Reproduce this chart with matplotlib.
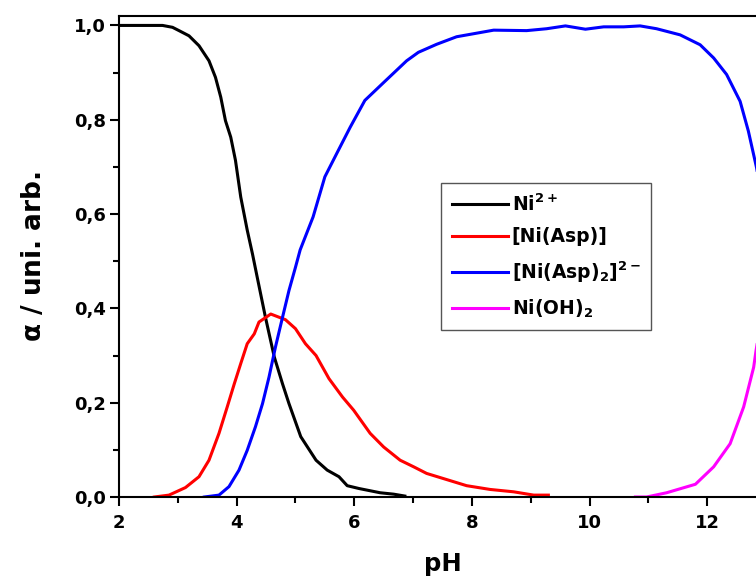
import matplotlib
matplotlib.use("Agg")
import matplotlib.pyplot as plt
from matplotlib.ticker import MultipleLocator, FuncFormatter

# species distribution
ph_ni = [2.0, 2.74, 2.91, 3.02, 3.19, 3.36, 3.53, 3.64, 3.73, 3.81, 3.90, 3.98, 4.07, 4.18, 4.27,
         4.35, 4.49, 4.64, 4.78, 4.89, 5.09, 5.35, 5.54, 5.74, 5.88, 6.08, 6.44, 6.67, 6.86]
a_ni = [1.0, 1.0, 0.996, 0.989, 0.978, 0.957, 0.925, 0.89, 0.848, 0.798, 0.763, 0.714, 0.636, 0.566, 0.515,
        0.466, 0.381, 0.297, 0.24, 0.198, 0.128, 0.078, 0.057, 0.043, 0.024, 0.018, 0.009, 0.006, 0.002]

ph_asp = [2.60, 2.85, 3.13, 3.36, 3.53, 3.70, 3.84, 3.96, 4.07, 4.18, 4.30, 4.38, 4.58, 4.83, 5.00, 5.17,
          5.35, 5.57, 5.80, 5.99, 6.27, 6.50, 6.78, 7.01, 7.23, 7.57, 7.91, 8.31, 8.71, 9.05, 9.30]
a_asp = [0.0, 0.004, 0.02, 0.043, 0.078, 0.135, 0.191, 0.24, 0.283, 0.325, 0.346, 0.371, 0.388, 0.376, 0.357, 0.325,
         0.30, 0.251, 0.212, 0.184, 0.135, 0.106, 0.078, 0.064, 0.05, 0.037, 0.024, 0.016, 0.011, 0.004, 0.004]

ph_asp2 = [3.45, 3.70, 3.87, 4.04, 4.18, 4.32, 4.44, 4.55, 4.66, 4.78, 4.89, 5.00, 5.08, 5.30, 5.50, 5.70,
           5.93, 6.18, 6.50, 6.89, 7.09, 7.40, 7.74, 8.37, 8.93, 9.27, 9.59, 9.93, 10.24, 10.58, 10.86,
           11.14, 11.54, 11.88, 12.11, 12.33, 12.56, 12.70, 12.84, 13.0]
a_asp2 = [0.0, 0.004, 0.022, 0.057, 0.099, 0.149, 0.198, 0.254, 0.318, 0.381, 0.438, 0.487, 0.524, 0.594, 0.679, 0.728,
          0.784, 0.841, 0.879, 0.925, 0.943, 0.96, 0.976, 0.99, 0.989, 0.993, 0.999, 0.992, 0.997, 0.997, 0.999,
          0.993, 0.98, 0.959, 0.931, 0.896, 0.839, 0.776, 0.698, 0.58]

ph_oh = [10.78, 10.97, 11.31, 11.80, 12.11, 12.39, 12.62, 12.79, 12.83, 13.0]
a_oh = [0.0, 0.0, 0.009, 0.027, 0.064, 0.113, 0.191, 0.275, 0.31, 0.44]

labels = [r'Ni$^{\mathbf{2+}}$', '[Ni(Asp)]', r'[Ni(Asp)$_{\mathbf{2}}$]$^{\mathbf{2-}}$', r'Ni(OH)$_{\mathbf{2}}$']
colors = ['black', '#ff0000', '#0000ff', '#ff00ff']

plt.rcParams['font.family'] = 'DejaVu Sans'
plt.rcParams['font.weight'] = 'bold'
plt.rcParams['mathtext.fontset'] = 'dejavusans'
plt.rcParams['mathtext.default'] = 'regular'

fig = plt.figure(figsize=(7.56, 5.83), dpi=100)
# axes run a little past the right edge, like the cropped original
ax = fig.add_axes([119/756, 86/583, 647/756, 481/583])

ax.plot(ph_ni, a_ni, color=colors[0], lw=2.2, label=labels[0])
ax.plot(ph_asp, a_asp, color=colors[1], lw=2.2, label=labels[1])
ax.plot(ph_asp2, a_asp2, color=colors[2], lw=2.2, label=labels[2])
ax.plot(ph_oh, a_oh, color=colors[3], lw=2.2, label=labels[3])

ax.set_xlim(2, 13)
ax.set_ylim(0, 1.02)
ax.xaxis.set_major_locator(MultipleLocator(2))
ax.xaxis.set_minor_locator(MultipleLocator(1))
ax.yaxis.set_major_locator(MultipleLocator(0.2))
ax.yaxis.set_minor_locator(MultipleLocator(0.1))
ax.yaxis.set_major_formatter(FuncFormatter(lambda v, p: f'{v:.1f}'.replace('.', ',')))
ax.xaxis.set_major_formatter(FuncFormatter(lambda v, p: f'{v:.0f}'))

ax.tick_params(which='major', direction='out', length=6.5, width=1.5, labelsize=13)
ax.tick_params(axis='x', which='major', pad=6)
ax.tick_params(axis='y', which='major', pad=3)
ax.tick_params(which='minor', direction='out', length=4, width=1.5)
for s in ax.spines.values():
    s.set_linewidth(1.5)

ax.set_xlabel('pH', fontsize=17.5, fontweight='bold', labelpad=14)
ax.set_ylabel(r'$\alpha$ / uni. arb.', fontsize=19, fontweight='bold', labelpad=19)

leg = ax.legend(loc='upper left', bbox_to_anchor=(0.498, 0.653), borderaxespad=0,
                fontsize=13.5, fancybox=False, edgecolor='#555555', framealpha=1,
                handlelength=3.0, handletextpad=0.2, labelspacing=0.68, borderpad=0.55)
leg.get_frame().set_linewidth(1.0)

fig.savefig('out.png', dpi=100)
